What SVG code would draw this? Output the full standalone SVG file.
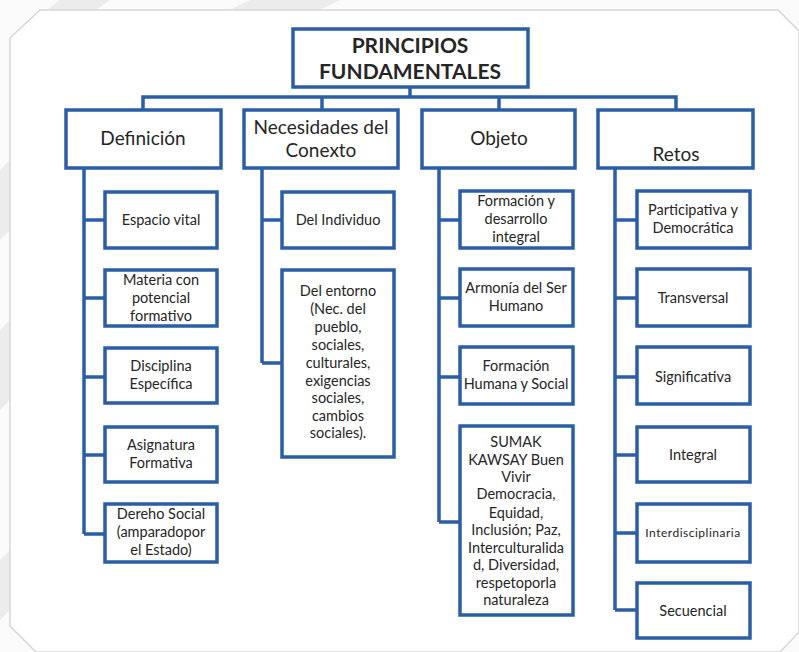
<svg xmlns="http://www.w3.org/2000/svg" width="799" height="652" viewBox="0 0 799 652">
  <defs>
    <style>
      .box { fill: #ffffff; stroke: #2a5ea6; stroke-width: 3.5; }
      .wire { fill: none; stroke: #2a5ea6; stroke-width: 3.5; stroke-linejoin: miter; }
      text { font-family: Lato, "Liberation Sans", sans-serif; fill: #262626; text-anchor: middle; }
      .title { font-size: 21px; font-weight: bold; }
      .head { font-size: 19px; }
      .item { font-size: 14.5px; }
      .small { font-size: 12px; letter-spacing: 0.5px; }
    </style>
  </defs>

  <!-- page background with faint diagonal bands -->
  <rect x="0" y="0" width="799" height="652" fill="#fbfbfb"/>
  <g fill="#ececec">
    <polygon points="60,0 110,0 40,50 10,50 10,40"/>
    <polygon points="250,0 340,0 320,10 230,10"/>
    <polygon points="0,170 10,160 10,230 0,240"/>
    <polygon points="0,330 10,320 10,400 0,410"/>
    <polygon points="0,560 10,550 10,610 0,620"/>
  </g>

  <!-- card -->
  <polygon points="40,10 778,10 799,31 799,632 780,652 36,652 10,626 10,38" fill="#ffffff" stroke="#d6d6d6" stroke-width="1.5"/>

  <!-- connectors -->
  <g id="connectors" class="wire">
    <path d="M410,87 V97 M143,110 V97 H676 V110 M322,97 V110 M499,97 V110"/>
    <path d="M84,168 V534 M84,220 H105 M84,298 H105 M84,377 H105 M84,455 H105 M84,534 H105"/>
    <path d="M262,168 V363 M262,220 H282 M262,363 H282"/>
    <path d="M439,168 V522 M439,220 H460 M439,298 H460 M439,377 H460 M439,522 H460"/>
    <path d="M615,168 V610 M615,220 H637 M615,298 H637 M615,377 H637 M615,455 H637 M615,533 H637 M615,610 H637"/>
  </g>

  <!-- root -->
  <g id="root">
    <rect class="box" x="293" y="29" width="235" height="58"/>
    <text class="title" x="410" y="53">PRINCIPIOS</text>
    <text class="title" x="410" y="79">FUNDAMENTALES</text>
  </g>

  <!-- first level -->
  <g id="definicion">
    <rect class="box" x="66" y="110" width="155" height="58"/>
    <text class="head" x="143" y="145">Definición</text>
  </g>
  <g id="necesidades">
    <rect class="box" x="244" y="110" width="154" height="58"/>
    <text class="head" x="321" y="134">Necesidades del</text>
    <text class="head" x="321" y="157">Conexto</text>
  </g>
  <g id="objeto">
    <rect class="box" x="422" y="110" width="153" height="58"/>
    <text class="head" x="499" y="145">Objeto</text>
  </g>
  <g id="retos">
    <rect class="box" x="598" y="110" width="155" height="58"/>
    <text class="head" x="676" y="161">Retos</text>
  </g>

  <!-- Definición children -->
  <g id="espacio-vital">
    <rect class="box" x="105" y="192" width="112" height="56"/>
    <text class="item" x="161" y="225">Espacio vital</text>
  </g>
  <g id="materia">
    <rect class="box" x="105" y="270" width="112" height="56"/>
    <text class="item" x="161" y="285">Materia con</text>
    <text class="item" x="161" y="303">potencial</text>
    <text class="item" x="161" y="321">formativo</text>
  </g>
  <g id="disciplina">
    <rect class="box" x="105" y="348" width="112" height="55"/>
    <text class="item" x="161" y="371">Disciplina</text>
    <text class="item" x="161" y="389">Específica</text>
  </g>
  <g id="asignatura">
    <rect class="box" x="105" y="427" width="112" height="55"/>
    <text class="item" x="161" y="450">Asignatura</text>
    <text class="item" x="161" y="468">Formativa</text>
  </g>
  <g id="derecho-social">
    <rect class="box" x="105" y="504" width="112" height="58"/>
    <text class="item" x="161" y="519">Dereho Social</text>
    <text class="item" x="161" y="537">(amparadopor</text>
    <text class="item" x="161" y="555">el Estado)</text>
  </g>

  <!-- Necesidades children -->
  <g id="individuo">
    <rect class="box" x="282" y="192" width="112" height="56"/>
    <text class="item" x="338" y="225">Del Individuo</text>
  </g>
  <g id="entorno">
    <rect class="box" x="282" y="270" width="112" height="187"/>
    <text class="item" x="338" y="296">Del entorno</text>
    <text class="item" x="338" y="314">(Nec. del</text>
    <text class="item" x="338" y="332">pueblo,</text>
    <text class="item" x="338" y="350">sociales,</text>
    <text class="item" x="338" y="368">culturales,</text>
    <text class="item" x="338" y="386">exigencias</text>
    <text class="item" x="338" y="403">sociales,</text>
    <text class="item" x="338" y="421">cambios</text>
    <text class="item" x="338" y="438">sociales).</text>
  </g>

  <!-- Objeto children -->
  <g id="formacion-integral">
    <rect class="box" x="460" y="191" width="113" height="57"/>
    <text class="item" x="516" y="206">Formación y</text>
    <text class="item" x="516" y="224">desarrollo</text>
    <text class="item" x="516" y="242">integral</text>
  </g>
  <g id="armonia">
    <rect class="box" x="460" y="269" width="113" height="57"/>
    <text class="item" x="516" y="293">Armonía del Ser</text>
    <text class="item" x="516" y="311">Humano</text>
  </g>
  <g id="formacion-humana">
    <rect class="box" x="460" y="347" width="113" height="57"/>
    <text class="item" x="516" y="371">Formación</text>
    <text class="item" x="516" y="389">Humana y Social</text>
  </g>
  <g id="sumak-kawsay">
    <rect class="box" x="460" y="426" width="113" height="189"/>
    <text class="item" x="516" y="447">SUMAK</text>
    <text class="item" x="516" y="465">KAWSAY Buen</text>
    <text class="item" x="516" y="482">Vivir</text>
    <text class="item" x="516" y="499">Democracia,</text>
    <text class="item" x="516" y="518">Equidad,</text>
    <text class="item" x="516" y="535">Inclusión; Paz,</text>
    <text class="item" x="516" y="553">Interculturalida</text>
    <text class="item" x="516" y="570">d, Diversidad,</text>
    <text class="item" x="516" y="588">respetoporla</text>
    <text class="item" x="516" y="605">naturaleza</text>
  </g>

  <!-- Retos children -->
  <g id="participativa">
    <rect class="box" x="637" y="191" width="113" height="57"/>
    <text class="item" x="693" y="215">Participativa y</text>
    <text class="item" x="693" y="233">Democrática</text>
  </g>
  <g id="transversal">
    <rect class="box" x="637" y="269" width="113" height="57"/>
    <text class="item" x="693" y="303">Transversal</text>
  </g>
  <g id="significativa">
    <rect class="box" x="637" y="347" width="113" height="57"/>
    <text class="item" x="693" y="382">Significativa</text>
  </g>
  <g id="integral">
    <rect class="box" x="637" y="427" width="113" height="55"/>
    <text class="item" x="693" y="460">Integral</text>
  </g>
  <g id="interdisciplinaria">
    <rect class="box" x="637" y="504" width="113" height="58"/>
    <text class="small" x="693" y="537">Interdisciplinaria</text>
  </g>
  <g id="secuencial">
    <rect class="box" x="637" y="583" width="113" height="55"/>
    <text class="item" x="693" y="616">Secuencial</text>
  </g>
</svg>
